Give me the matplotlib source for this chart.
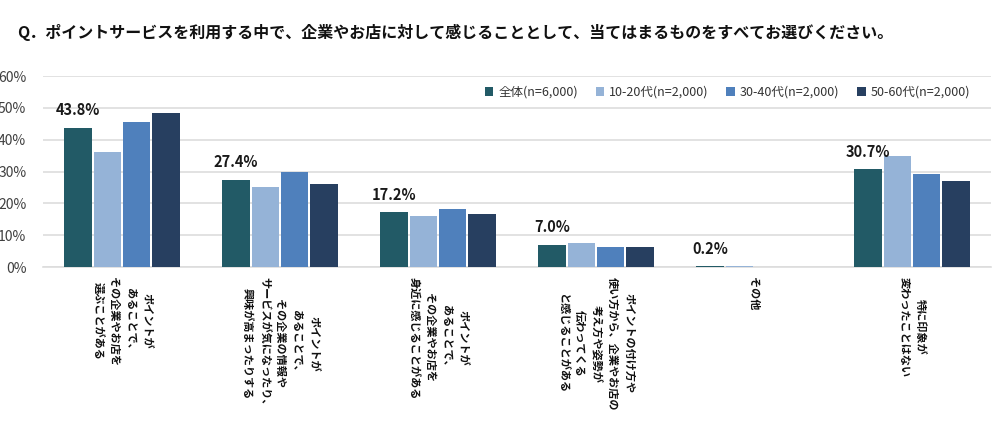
import numpy as np
import matplotlib
matplotlib.use('Agg')
import matplotlib.pyplot as plt

plt.rcParams['font.family'] = ['Noto Sans CJK JP', 'DejaVu Sans']

# data
categories = [
    'ポイントが\nあることで、\nその企業やお店を\n選ぶことがある',
    'ポイントが\nあることで、\nその企業の情報や\nサービスが気になったり、\n興味が高まったりする',
    'ポイントが\nあることで、\nその企業やお店を\n身近に感じることがある',
    'ポイントの付け方や\n使い方から、企業やお店の\n考え方や姿勢が\n伝わってくる\nと感じることがある',
    'その他',
    '特に印象が\n変わったことはない',
]
series_names = ['全体(n=6,000)', '10-20代(n=2,000)', '30-40代(n=2,000)', '50-60代(n=2,000)']
total = [43.8, 27.4, 17.2, 7.0, 0.2, 30.7]
age_10_20 = [36.1, 25.1, 15.9, 7.5, 0.3, 35.0]
age_30_40 = [45.6, 29.8, 18.2, 6.4, 0.1, 29.2]
age_50_60 = [48.5, 26.2, 16.7, 6.4, 0.1, 27.0]
yticks = [0, 10, 20, 30, 40, 50, 60]

colors = ['#225A66', '#95B3D7', '#4F80BC', '#273F60']
all_series = [total, age_10_20, age_30_40, age_50_60]

fig = plt.figure(figsize=(10, 4.28), dpi=100)
ax = fig.add_axes([0.043, 0.376, 0.948, 0.446])

x = np.arange(len(categories))
slot = 0.186
bw = 0.173
for i, vals in enumerate(all_series):
    ax.bar(x + (i - 1.5) * slot, vals, bw, color=colors[i], label=series_names[i], zorder=3)

# value labels on the total series
for xi, v in zip(x, total):
    ax.annotate(f'{v:.1f}%', xy=(xi - 1.5 * slot, v), xytext=(0, 7), textcoords='offset points',
                ha='center', va='bottom', fontsize=10.5, fontweight='bold', color='#1a1a1a')

ax.set_xlim(-0.5, len(categories) - 0.5)
ax.set_ylim(0, 60)
ax.set_yticks(yticks)
ax.set_yticklabels([f'{t}%' for t in yticks], fontsize=10, color='#404040')
ax.tick_params(axis='y', length=0, pad=12)
ax.tick_params(axis='x', length=0, pad=7)
ax.set_xticks(x)
ax.set_xticklabels(categories, rotation=-90, ha='center', va='top', multialignment='center',
                   fontsize=8, fontweight='bold', linespacing=1.35, color='#111111')
ax.grid(axis='y', color='#DDDDDD', linewidth=1.2, zorder=0)
for s in ['top', 'right', 'left']:
    ax.spines[s].set_visible(False)
ax.spines['bottom'].set_color('#DDDDDD')
ax.spines['bottom'].set_linewidth(1.2)

leg = ax.legend(loc='center right', bbox_to_anchor=(0.99, 0.915), ncol=4, frameon=False,
                fontsize=9, handlelength=0.7, handleheight=0.7, handletextpad=0.4,
                columnspacing=1.4, labelcolor='#333333')

fig.text(0.017, 0.925, 'Q．ポイントサービスを利用する中で、企業やお店に対して感じることとして、当てはまるものをすべてお選びください。',
         fontsize=11.5, fontweight='bold', va='center', ha='left', color='#111111')

fig.savefig('out.png', dpi=100)
